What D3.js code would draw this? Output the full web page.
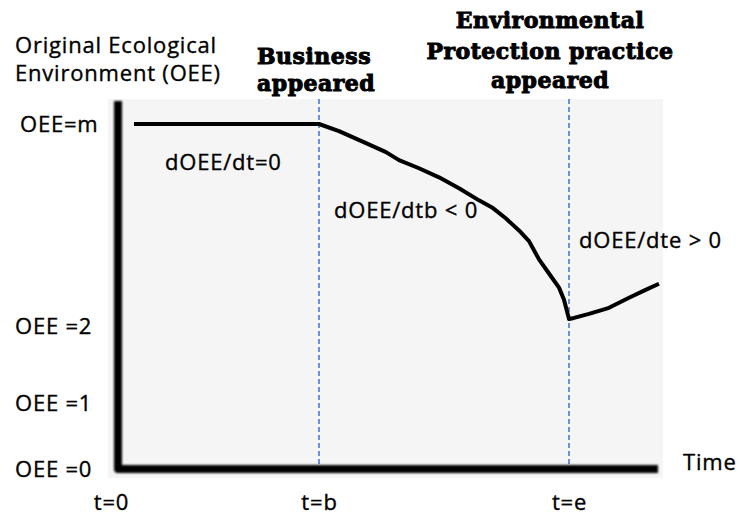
<!DOCTYPE html>
<html>
<head>
<meta charset="utf-8">
<script src="https://cdn.jsdelivr.net/npm/d3@7/dist/d3.min.js"></script>
<style>
  body { margin: 0; background: #fff; }
  .sans { font-family: "Open Sans", "Noto Sans", sans-serif; fill: #000; stroke: #000; stroke-width: 0.35px; letter-spacing: 0.8px; }
  .head { font-family: "DejaVu Serif", "Liberation Serif", serif; font-weight: bold; fill: #000; stroke: #000; stroke-width: 1px; letter-spacing: 0.5px; }
</style>
</head>
<body>
<script>
// time ticks (t=b and t=e are the two events)
var tickTimes = [0, 10, 22.5];
var tickTimeLabels = ["t=0", "t=b", "t=e"];
var eventTimes = [10, 22.5];

// OEE levels, "m" is the top level
var oeeLevels = [0, 1, 2, 3];
var oeeLabels = ["OEE =0", "OEE =1", "OEE =2", "OEE=m"];

// the OEE curve
var curveT = [0.75, 10, 11, 12.35, 13.35, 14, 15, 16, 17, 18, 18.65, 19.35, 20, 20.5, 21, 21.5, 22, 22.25, 22.5, 22.75, 23.5, 24.5, 25.5, 26.25, 27];
var curveOEE = [3, 3, 2.965, 2.905, 2.861, 2.821, 2.781, 2.736, 2.682, 2.622, 2.587, 2.532, 2.473, 2.42, 2.33, 2.26, 2.19, 2.13, 2.035, 2.04, 2.06, 2.09, 2.14, 2.175, 2.209];

var W = 740, H = 515;
var tMax = 27;

var x = d3.scaleLinear().domain([0, tMax]).range([119, 659]);
var y = d3.scaleLinear().domain(oeeLevels).range([469, 403, 326, 124]);

var svg = d3.select('body').append('svg').attr('width', W).attr('height', H);

var defs = svg.append('defs');
defs.append('filter').attr('id', 'soft')
    .attr('x', '-20%').attr('y', '-20%').attr('width', '140%').attr('height', '140%')
  .append('feGaussianBlur').attr('stdDeviation', 1.3);

// grey plot panel
svg.append('rect')
    .attr('x', x(-0.55)).attr('y', 99)
    .attr('width', x(27.2) - x(-0.55)).attr('height', 478 - 99)
    .attr('fill', '#f5f5f5');

// dashed event lines
svg.selectAll('.event').data(eventTimes).enter().append('line')
    .attr('class', 'event')
    .attr('x1', function (d) { return x(d); })
    .attr('x2', function (d) { return x(d); })
    .attr('y1', 99).attr('y2', y(0) + 3)
    .attr('stroke', '#4472c4').attr('stroke-width', 1.5)
    .attr('stroke-dasharray', '5,3');

// thick axes
var axes = svg.append('g').attr('filter', 'url(#soft)');
axes.append('path')
    .attr('d', 'M' + (x(0) - 1) + ',101V' + y(0) + 'H' + x(26.95))
    .attr('fill', 'none').attr('stroke', '#000').attr('stroke-width', 8)
    .attr('stroke-linejoin', 'round');

// y tick labels, left aligned like the picture
var yAxis = d3.axisLeft(y).tickValues(oeeLevels)
    .tickFormat(function (d, i) { return oeeLabels[i]; }).tickSize(0).tickPadding(0);
var gy = svg.append('g').attr('transform', 'translate(15,0)').call(yAxis);
gy.select('.domain').remove();
gy.selectAll('text').attr('class', 'sans').attr('font-size', 22).attr('fill', '#000')
    .attr('text-anchor', 'start')
    .attr('dx', function (d) { return d === 3 ? 5 : 0; });

// x tick labels
var xAxis = d3.axisBottom(x).tickValues(tickTimes)
    .tickFormat(function (d, i) { return tickTimeLabels[i]; }).tickSize(0).tickPadding(0);
var gx = svg.append('g').attr('transform', 'translate(0,494)').call(xAxis);
gx.select('.domain').remove();
gx.selectAll('text').attr('class', 'sans').attr('font-size', 22).attr('fill', '#000')
    .attr('dx', function (d) { return d === 0 ? -8 : 0; });

// OEE curve
var pts = curveT.map(function (t, i) { return [t, curveOEE[i]]; });
var line = d3.line()
    .x(function (d) { return x(d[0]); })
    .y(function (d) { return y(d[1]); });
svg.append('path').datum(pts)
    .attr('d', line)
    .attr('fill', 'none').attr('stroke', '#000').attr('stroke-width', 4)
    .attr('stroke-linejoin', 'round');

// texts
function txt(s, px, py, size, cls, anchor) {
  return svg.append('text').attr('x', px).attr('y', py)
      .attr('class', cls).attr('font-size', size)
      .attr('text-anchor', anchor || 'start').text(s);
}
txt('Original Ecological', 15, 53, 22, 'sans');
txt('Environment (OEE)', 15, 81, 22, 'sans');
txt('Time', 683, 470, 22, 'sans');
txt('dOEE/dt=0', 165, 170, 22, 'sans');
txt('dOEE/dtb < 0', 334, 218, 22, 'sans');
txt('dOEE/dte > 0', 579, 248, 22, 'sans');

txt('Business', 257, 64, 22, 'head');
txt('appeared', 257, 91, 22, 'head');
txt('Environmental', 550, 28, 22, 'head', 'middle');
txt('Protection practice', 550, 59, 22, 'head', 'middle');
txt('appeared', 550, 88, 22, 'head', 'middle');
</script>
</body>
</html>
